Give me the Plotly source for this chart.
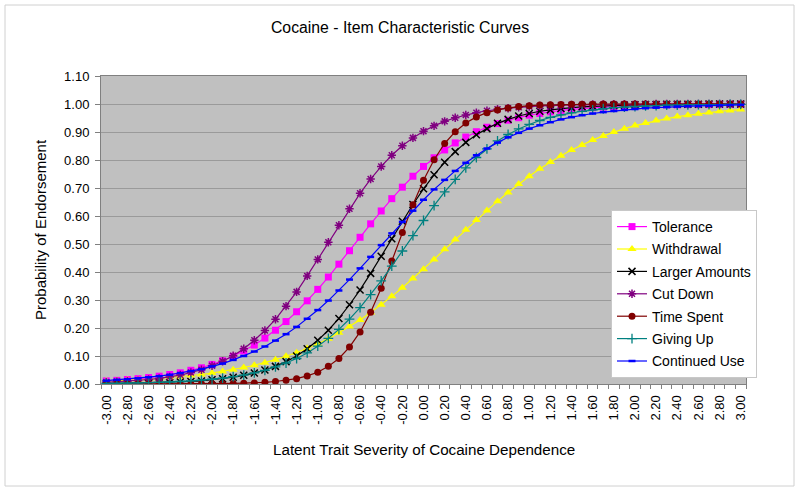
import plotly.graph_objects as go

# Latent trait categories (-3.00 .. 3.00 step 0.10)
theta = [round(-3.0 + 0.1 * i, 1) for i in range(61)]
tick_vals = [round(-3.0 + 0.2 * i, 1) for i in range(31)]
tick_text = ["%.2f" % v for v in tick_vals]

tolerance = [0.011,0.013,0.016,0.019,0.023,0.028,0.034,0.040,0.049,0.058,
             0.070,0.083,0.099,0.118,0.139,0.164,0.192,0.223,0.258,0.297,
             0.338,0.382,0.428,0.476,0.524,0.572,0.618,0.662,0.703,0.742,
             0.777,0.808,0.836,0.861,0.882,0.901,0.917,0.930,0.942,0.951,
             0.960,0.966,0.972,0.977,0.981,0.984,0.987,0.989,0.991,0.993,
             0.994,0.995,0.996,0.997,0.997,0.998,0.998,0.998,0.999,0.999,0.999]
withdrawal = [0.010,0.011,0.013,0.015,0.017,0.020,0.023,0.026,0.030,0.034,
              0.039,0.045,0.051,0.059,0.067,0.076,0.087,0.099,0.112,0.127,
              0.144,0.162,0.183,0.205,0.229,0.255,0.283,0.313,0.344,0.377,
              0.410,0.445,0.481,0.516,0.551,0.586,0.620,0.653,0.684,0.714,
              0.742,0.769,0.793,0.815,0.836,0.854,0.871,0.886,0.900,0.912,
              0.923,0.932,0.941,0.948,0.955,0.960,0.965,0.970,0.974,0.977,0.980]
larger_amounts = [0.001,0.002,0.002,0.003,0.003,0.004,0.005,0.007,0.009,0.011,
                  0.015,0.019,0.024,0.031,0.039,0.050,0.063,0.080,0.100,0.126,
                  0.156,0.192,0.234,0.283,0.336,0.395,0.456,0.519,0.581,0.641,
                  0.697,0.747,0.792,0.830,0.863,0.890,0.912,0.931,0.945,0.957,
                  0.966,0.974,0.979,0.984,0.987,0.990,0.992,0.994,0.995,0.996,
                  0.997,0.998,0.998,0.999,0.999,0.999,0.999,1.000,1.000,1.000,1.000]
cut_down = [0.006,0.008,0.010,0.012,0.016,0.020,0.025,0.032,0.041,0.051,
            0.065,0.081,0.101,0.126,0.156,0.191,0.231,0.278,0.329,0.386,
            0.445,0.506,0.567,0.626,0.681,0.732,0.777,0.817,0.851,0.879,
            0.903,0.922,0.938,0.951,0.961,0.969,0.976,0.981,0.985,0.988,
            0.991,0.993,0.994,0.996,0.997,0.997,0.998,0.998,0.999,0.999,
            0.999,0.999,1.000,1.000,1.000,1.000,1.000,1.000,1.000,1.000,1.000]
time_spent = [0.000,0.000,0.000,0.000,0.000,0.000,0.000,0.000,0.000,0.000,
              0.001,0.001,0.002,0.003,0.004,0.006,0.009,0.013,0.019,0.029,
              0.042,0.063,0.091,0.132,0.186,0.256,0.342,0.439,0.541,0.640,
              0.728,0.801,0.859,0.901,0.932,0.954,0.969,0.979,0.986,0.991,
              0.994,0.996,0.997,0.998,0.999,0.999,0.999,1.000,1.000,1.000,
              1.000,1.000,1.000,1.000,1.000,1.000,1.000,1.000,1.000,1.000,1.000]
giving_up = [0.002,0.002,0.003,0.004,0.005,0.006,0.007,0.009,0.011,0.014,
             0.017,0.021,0.026,0.032,0.040,0.049,0.061,0.075,0.091,0.111,
             0.135,0.163,0.195,0.232,0.273,0.319,0.368,0.421,0.475,0.530,
             0.584,0.637,0.686,0.731,0.772,0.809,0.840,0.868,0.891,0.911,
             0.927,0.941,0.952,0.961,0.968,0.974,0.979,0.983,0.987,0.989,
             0.991,0.993,0.994,0.996,0.996,0.997,0.998,0.998,0.998,0.999,0.999]
continued_use = [0.012,0.015,0.017,0.020,0.024,0.028,0.033,0.039,0.046,0.053,
                 0.063,0.073,0.086,0.100,0.116,0.134,0.155,0.178,0.204,0.233,
                 0.264,0.298,0.334,0.373,0.413,0.454,0.496,0.538,0.579,0.619,
                 0.658,0.695,0.729,0.761,0.790,0.817,0.841,0.862,0.881,0.897,
                 0.912,0.924,0.935,0.945,0.953,0.960,0.966,0.971,0.975,0.979,
                 0.982,0.985,0.987,0.989,0.991,0.992,0.993,0.994,0.995,0.996,0.997]

y_ticks = [round(0.1 * i, 1) for i in range(12)]

FONT = "Liberation Sans, Arial, sans-serif"

series = [
    ("Tolerance", tolerance, "#FF00FF", "square", 7, None),
    ("Withdrawal", withdrawal, "#FFFF00", "triangle-up", 8, None),
    ("Larger Amounts", larger_amounts, "#000000", "x-thin-open", 7, 1.5),
    ("Cut Down", cut_down, "#800080", "asterisk-open", 7, 1.5),
    ("Time Spent", time_spent, "#800000", "circle", 7, None),
    ("Giving Up", giving_up, "#008080", "cross-thin-open", 7, 1.3),
    ("Continued Use", continued_use, "#0000FF", "line-ew-open", 5, 2.5),
]

fig = go.Figure()
for name, vals, color, sym, size, lw in series:
    marker = dict(symbol=sym, size=size, color=color)
    if lw is not None:
        marker["line"] = dict(color=color, width=lw)
    else:
        marker["line"] = dict(color=color, width=0)
    fig.add_trace(go.Scatter(
        x=theta, y=vals, name=name, mode="lines+markers",
        line=dict(color=color, width=1.2), marker=marker,
        legendgroup=name,
    ))

L, R, T, B = 101, 54, 76, 107
W, H = 800, 491
pw = W - L - R
ph = H - T - B

def px_x(p):
    return (p - L) / pw

def px_y(p):
    return (H - B - p) / ph

fig.update_layout(
    width=W, height=H,
    margin=dict(l=L, r=R, t=T, b=B),
    paper_bgcolor="white",
    plot_bgcolor="#C0C0C0",
    font=dict(family=FONT, size=12, color="black"),
    title=dict(text="Cocaine - Item Characteristic Curves", x=0.5, xref="container",
               y=1 - 27 / H, yref="container", xanchor="center", yanchor="middle",
               font=dict(family=FONT, size=15.8, color="black")),
    showlegend=True,
    legend=dict(x=px_x(611), y=px_y(210), xanchor="left", yanchor="top",
                bgcolor="white", bordercolor="#C8C8C8", borderwidth=1,
                font=dict(family=FONT, size=14, color="black"),
                tracegroupgap=1.2, traceorder="grouped"),
    xaxis=dict(range=[-3.05, 3.05], tickmode="array", tickvals=tick_vals, ticktext=tick_text,
               tickangle=-90, ticks="outside", ticklen=5, tickcolor="rgba(0,0,0,0)",
               showgrid=False, zeroline=False, showline=True, linecolor="#808080",
               linewidth=1, mirror=True,
               tickfont=dict(family=FONT, size=13, color="black"),
               minor=dict(tick0=-3.05, dtick=0.1, ticks="outside", ticklen=4,
                          tickcolor="#808080", showgrid=False)),
    yaxis=dict(range=[0, 1.10], tickmode="array", tickvals=y_ticks,
               ticktext=["%.2f" % v for v in y_ticks],
               ticks="outside", ticklen=5, tickcolor="#808080", ticklabelstandoff=3,
               showgrid=True, gridcolor="#9A9A9A", gridwidth=1, zeroline=False,
               showline=True, linecolor="#808080", linewidth=1, mirror=True,
               tickfont=dict(family=FONT, size=13, color="black")),
    shapes=[dict(type="rect", xref="paper", yref="paper",
                 x0=px_x(5), x1=px_x(794), y0=px_y(486), y1=px_y(5),
                 line=dict(color="#D0D0D0", width=1), fillcolor="rgba(0,0,0,0)",
                 layer="below")],
    annotations=[
        dict(text="Probability of Endorsement", xref="paper", yref="paper",
             x=px_x(40), y=0.5, textangle=-90, showarrow=False,
             xanchor="center", yanchor="middle",
             font=dict(family=FONT, size=15, color="black")),
        dict(text="Latent Trait Severity of Cocaine Dependence", xref="paper", yref="paper",
             x=0.5, y=px_y(449), showarrow=False, xanchor="center", yanchor="middle",
             font=dict(family=FONT, size=15.2, color="black")),
    ],
)

fig.write_html("out.html", config={"displayModeBar": False},
               post_script="document.body.style.margin='0';")
